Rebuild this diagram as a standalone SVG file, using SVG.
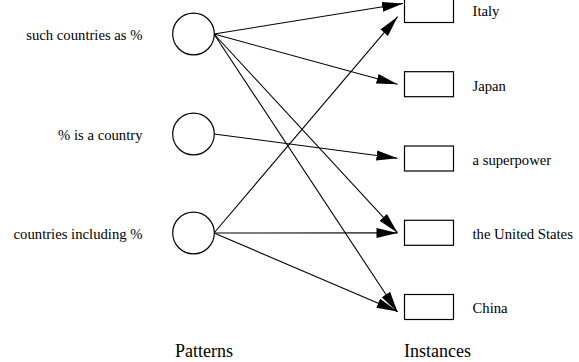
<svg xmlns="http://www.w3.org/2000/svg" width="579" height="362" viewBox="0 0 579 362">
<style>
.pat{fill:#fff;stroke:#000;stroke-width:1.2}
.ins{fill:#fff;stroke:#000;stroke-width:1.2}
.lbl{font-family:"Liberation Serif","Times New Roman",serif;font-size:14.7px;fill:#000}
.end{text-anchor:end}
.title{font-family:"Liberation Serif","Times New Roman",serif;font-size:18px;fill:#000}
.edge{stroke:#000;stroke-width:1.1;fill:none;marker-end:url(#arr)}
</style>
<defs>
<marker id="arr" markerUnits="userSpaceOnUse" markerWidth="22" markerHeight="12" viewBox="0 -6 22 12" refX="21" refY="0" orient="auto">
<path d="M0,-5 L21,0 L0,5 z" fill="#000"/>
</marker>
</defs>
<rect width="579" height="362" fill="#fff"/>
<g id="connectors">
<line class="edge" x1="214" y1="34" x2="403" y2="3.5"/>
<line class="edge" x1="214" y1="34" x2="397.5" y2="84.3"/>
<line class="edge" x1="214" y1="34" x2="397.5" y2="232.7"/>
<line class="edge" x1="214" y1="34" x2="397.5" y2="312"/>
<line class="edge" x1="214" y1="134" x2="397.5" y2="158.3"/>
<line class="edge" x1="214" y1="233" x2="397.7" y2="16.7"/>
<line class="edge" x1="214" y1="233" x2="397.5" y2="232.9"/>
<line class="edge" x1="214" y1="233" x2="397.5" y2="311.5"/>
</g>
<g id="p1"><circle class="pat" cx="193.5" cy="34" r="20.8"/><text class="lbl end" x="142.5" y="40">such countries as %</text></g>
<g id="p2"><circle class="pat" cx="193.5" cy="134" r="20.8"/><text class="lbl end" x="142.5" y="140">% is a country</text></g>
<g id="p3"><circle class="pat" cx="193.5" cy="233" r="20.8"/><text class="lbl end" x="142.5" y="239">countries including %</text></g>
<g id="i1"><rect class="ins" x="404.5" y="-2.5" width="49" height="25"/><text class="lbl" x="472.5" y="16">Italy</text></g>
<g id="i2"><rect class="ins" x="404.5" y="71.7" width="49" height="25"/><text class="lbl" x="472.5" y="90.5">Japan</text></g>
<g id="i3"><rect class="ins" x="404.5" y="146" width="49" height="25"/><text class="lbl" x="472.5" y="165">a superpower</text></g>
<g id="i4"><rect class="ins" x="404.5" y="220.3" width="49" height="25"/><text class="lbl" x="472.5" y="238.5">the United States</text></g>
<g id="i5"><rect class="ins" x="404.5" y="294.5" width="49" height="25"/><text class="lbl" x="472.5" y="313.3">China</text></g>
<g id="titles">
<text class="title" x="175" y="357">Patterns</text>
<text class="title" x="404" y="357">Instances</text>
</g>
</svg>
